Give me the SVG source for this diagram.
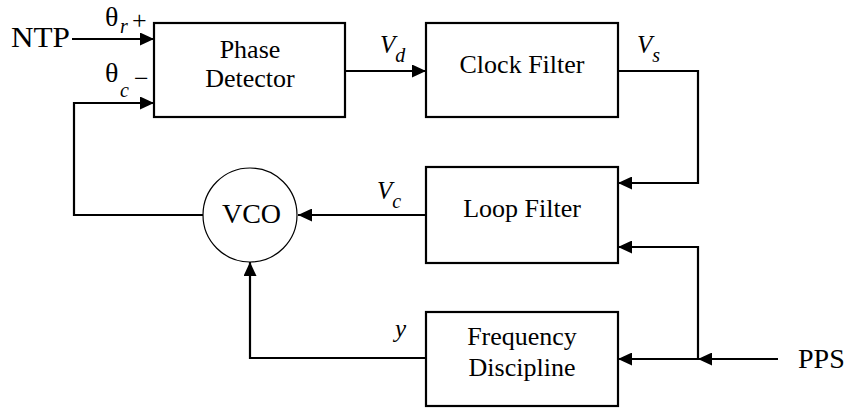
<svg xmlns="http://www.w3.org/2000/svg" width="848" height="410" viewBox="0 0 848 410">
<style>
.box{fill:#fff;stroke:#000;stroke-width:2.2}
.circ{fill:#fff;stroke:#000;stroke-width:1.2}
.wire{fill:none;stroke:#000;stroke-width:2.2}
text{font-family:"Liberation Serif","Times New Roman",serif;fill:#000}
.lbl{font-size:26px;text-anchor:middle}
.big{font-size:28px}
.it{font-style:italic}
</style>
<defs>
<marker id="arr" markerUnits="userSpaceOnUse" markerWidth="14" markerHeight="13" refX="14" refY="6.5" orient="auto">
<path d="M0,0 L14,6.5 L0,13 z" fill="#000"/>
</marker>
</defs>
<g id="connectors">
<path class="wire" d="M72,39 H154" marker-end="url(#arr)"/>
<path class="wire" d="M203,215 H74 V103 H154" marker-end="url(#arr)"/>
<path class="wire" d="M345,71 H426" marker-end="url(#arr)"/>
<path class="wire" d="M618,71 H698 V183 H618" marker-end="url(#arr)"/>
<path class="wire" d="M426,215 H298" marker-end="url(#arr)"/>
<path class="wire" d="M778,359 H698" marker-end="url(#arr)"/>
<path class="wire" d="M698,359 V247 H618" marker-end="url(#arr)"/>
<path class="wire" d="M698,359 H618" marker-end="url(#arr)"/>
<path class="wire" d="M426,358 H250 V262" marker-end="url(#arr)"/>
</g>
<g id="phase-detector">
<rect class="box" x="154" y="23" width="191" height="94"/>
<text class="lbl" x="250" y="58">Phase</text>
<text class="lbl" x="250" y="87">Detector</text>
</g>
<g id="clock-filter">
<rect class="box" x="426" y="23" width="192" height="94"/>
<text class="lbl" x="522" y="73">Clock Filter</text>
</g>
<g id="loop-filter">
<rect class="box" x="426" y="167" width="192" height="96"/>
<text class="lbl" x="522" y="217">Loop Filter</text>
</g>
<g id="frequency-discipline">
<rect class="box" x="426" y="312" width="192" height="94"/>
<text class="lbl" x="522" y="345">Frequency</text>
<text class="lbl" x="522" y="376">Discipline</text>
</g>
<g id="vco">
<circle class="circ" cx="250" cy="215" r="47"/>
<text class="big" x="251.5" y="223" text-anchor="middle">VCO</text>
</g>
<g id="ntp">
<text x="11" y="47" font-size="29" textLength="59" lengthAdjust="spacingAndGlyphs">NTP</text>
</g>
<g id="pps">
<text class="big" x="798" y="368">PPS</text>
</g>
<g id="labels">
<text x="105" y="26" font-size="28">θ</text>
<text x="120" y="33" font-size="20" class="it">r</text>
<text x="132" y="29" font-size="26">+</text>
<text x="105" y="82" font-size="28">θ</text>
<text x="120" y="97" font-size="20" class="it">c</text>
<text x="134" y="87" font-size="26">−</text>
<text x="380" y="53" font-size="25" class="it">V<tspan font-size="20" dy="9">d</tspan></text>
<text x="637" y="53" font-size="25" class="it">V<tspan font-size="20" dy="9">s</tspan></text>
<text x="377" y="199" font-size="25" class="it">V<tspan font-size="20" dy="9">c</tspan></text>
<text x="395" y="337" font-size="25" class="it">y</text>
</g>
</svg>
